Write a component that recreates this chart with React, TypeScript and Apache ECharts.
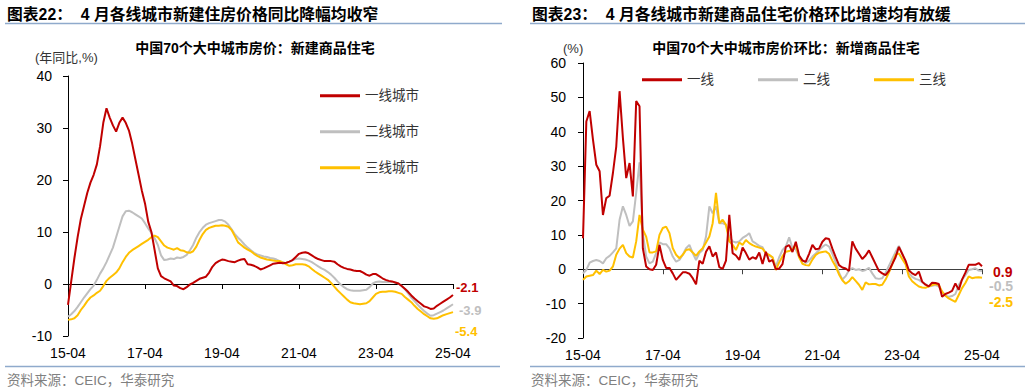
import React, { useEffect, useRef } from 'react';
import * as echarts from 'echarts';

// monthly categories 2015-04 .. 2025-04
const months: string[] = [];
for (let i = 0; i <= 120; i++) {
  const t = 3 + i;
  const yy = 15 + Math.floor(t / 12);
  const mm = (t % 12) + 1;
  months.push(`${yy}-${String(mm).padStart(2, '0')}`);
}

// Left chart: YoY (%)
const yoyTier1 = [
  -4, 0.5, 5, 9, 12.5, 15, 17.5, 19.5, 21, 23,
  26.5, 31, 33.8, 32, 30.5, 29.3, 31, 32, 31, 29.5,
  27, 24, 21, 18, 15.5, 12, 10, 6.5, 3.0, 1.5,
  1.1, 0.8, 0.5, -0.3, -0.4, -0.8, -1.0, -0.6, -0.1, 0.2,
  0.6, 1.0, 1.2, 1.4, 2.2, 3.3, 4.0, 4.4, 4.7, 4.6,
  4.4, 4.3, 4.2, 4.5, 4.7, 4.8, 3.8, 3.7, 3.5, 3.2,
  2.8, 3.0, 3.3, 3.6, 3.9, 4.0, 4.1, 4.0, 4.1, 4.3,
  4.6, 5.2, 5.8, 6.0, 6.1, 5.9, 5.5, 5.1, 4.8, 4.6,
  4.4, 4.4, 4.4, 4.3, 3.8, 3.4, 3.1, 2.9, 2.8, 2.6,
  2.5, 2.5, 2.2, 1.8, 1.6, 1.9, 1.9, 1.5, 1.1, 0.8,
  0.6, 0.5, 0.3, 0.1, -0.4, -0.9, -1.5, -2.2, -2.8, -3.3,
  -3.8, -4.3, -4.5, -4.8, -4.7, -4.2, -3.8, -3.4, -3.0, -2.6,
  -2.1,
];
const yoyTier2 = [
  -6.3, -5.8, -5.2, -4.4, -3.5, -2.6, -1.8, -1.0, -0.3, 0.8,
  2.0, 3.0, 4.2, 5.6, 7.0, 9.0, 11.0, 13.0, 14.0, 14.1,
  13.8, 13.4, 13.0, 12.6, 11.7, 10.7, 9.8, 8.8, 7.5, 5.5,
  4.6, 4.7, 4.9, 4.8, 5.1, 5.0, 5.2, 5.6, 6.5, 7.5,
  8.9, 10.0, 10.8, 11.4, 11.7, 11.9, 12.1, 12.3, 12.3, 12.0,
  11.4, 10.5, 9.6, 8.9, 8.3, 7.6, 7.0, 6.5, 6.0, 5.7,
  5.5, 5.3, 5.2, 5.0, 4.9, 4.7, 4.4, 4.2, 4.0, 4.3,
  4.6, 4.8, 4.9, 4.8, 4.7, 4.5, 4.2, 3.8, 3.4, 3.0,
  2.7, 2.3, 1.8, 1.2, 0.5, -0.1, -0.6, -1.0, -1.2, -1.3,
  -1.3, -1.3, -1.2, -1.1, -0.6, 0.1, 0.4, 0.5, 0.4, 0.4,
  0.4, 0.4, 0.3, 0.1, -0.4, -1.0, -1.8, -2.6, -3.3, -4.0,
  -4.6, -5.2, -5.7, -6.1, -6.0, -5.7, -5.4, -5.1, -4.7, -4.3,
  -3.9,
];
const yoyTier3 = [
  -6.9, -6.8, -6.6, -6.0, -5.0, -4.2, -3.3, -2.6, -2.2, -1.7,
  -1.3, -0.4, 0.6, 1.2, 1.7, 2.2, 3.0, 4.2, 5.2, 6.0,
  6.5, 6.9, 7.3, 7.7, 8.1, 8.5, 9.0, 9.3, 9.0, 8.2,
  7.4, 7.0, 6.8, 6.6, 6.9, 6.5, 6.4, 6.1, 6.0, 6.3,
  7.2, 8.5, 9.6, 10.4, 10.8, 11.0, 11.2, 11.2, 11.3, 11.2,
  11.0, 10.4, 9.2, 8.0, 7.5, 7.0, 6.6, 6.3, 5.8, 5.4,
  5.1, 4.9, 4.7, 4.6, 4.5, 4.4, 4.4, 4.1, 3.8, 3.5,
  3.6, 3.8, 3.8, 3.8, 3.7, 3.4, 2.9, 2.4, 2.0, 1.6,
  1.2, 0.8, 0.2, -0.5, -1.2, -1.8, -2.4, -3.0, -3.5, -3.7,
  -3.8, -3.9, -3.8, -3.7, -3.3, -2.6, -1.9, -1.6, -1.5, -1.5,
  -1.4, -1.4, -1.5, -1.7, -1.9, -2.5, -3.0, -3.5, -4.2, -4.8,
  -5.3, -5.8, -6.2, -6.6, -6.7, -6.6, -6.3, -6.0, -5.8, -5.6,
  -5.4,
];

// Right chart: MoM (%)
const momTier1 = [
  9, 43, 46, 37.7, 30.4, 28.5, 15.8, 20.7, 21.4, 28,
  35.7, 51.8, 38.2, 26.5, 30.9, 21.2, 48.9, 47.4, 6.1, 0.8,
  0, -0.2, 1.3, 7.1, 2.7, 0.4, 0.4, -1.2, -3.1, -2.0,
  -0.9, -0.9, -1.3, -2.6, -4.4, 2.5, 1.6, 5.1, 6.7, 3.7,
  4.9, 0.6, 0.1, 2.5, 15.8, 4.7, 4.0, 2.7, 6.3, 4.7,
  2.8, 3.5, 3.0, 4.9, 1.5, 5.1, 2.2, 2.7, 0, 0.2,
  1.5, 6.5, 7.0, 5.0, 8.0, 4.0, 2.5, 2.2, 4.5, 7.1,
  5.8, 6.0, 8.0, 9.0, 8.8, 6.0, 3.5, 1.2, 0.5, 0.2,
  -0.5, 8.1, 6.0, 4.5, 3.0, 4.0, 5.5, 3.5, 1.5, -0.5,
  -1.2, -1.7, -0.5, 1.5, 3.5, 6.5, 4.5, 2.5, -0.3, -1.2,
  -1.7, -0.7, -3.6, -4.5, -5.0, -3.9, -4.0, -4.3, -8.0, -7.2,
  -6.8, -6.3, -4.1, -6.0, -3.0, -1.0, 1.3, 1.3, 1.3, 1.8,
  0.9,
];
const momTier2 = [
  -1.2, -0.2, 1.9, 2.4, 2.7, 2.4, 1.7, 3.2, 3.9, 4.9,
  6.1, 14.4, 18.3, 15.8, 12.6, 13.9, 22.2, 31.1, 10.5, 3.7,
  1.7, 2.2, 4.7, 7.8, 7.3, 7.3, 6.1, 3.7, 2.2, 2.7,
  4.2, 6.1, 7.1, 4.7, 2.7, 4.7, 5.6, 9.5, 18.3, 16.3,
  18.3, 13.4, 13.4, 12.9, 9.5, 8.1, 7.8, 8.1, 9.1, 9.7,
  10.5, 8.1, 7.5, 6.8, 6.4, 4.5, 3.9, 3.5, 0.8, 3.5,
  5.6, 6.6, 9.3, 6.1, 5.8, 3.5, 2.7, 1.8, 2.5, 3.7,
  4.6, 5.6, 6.5, 7.2, 6.6, 4.5, 2.0, -1.0, -3.0, -2.0,
  -0.3, 0.3, -0.2, 0, -0.5, -0.2, 0.4, -1.2, -2.6, -2.8,
  -2.6, -1.0, 1.0, 3.0, 5.0, 6.8, 4.5, 2.0, -1.2, -2.2,
  -2.8, -3.1, -3.8, -4.3, -5.0, -4.8, -4.6, -5.0, -6.5, -7.7,
  -8.0, -7.8, -7.2, -4.6, -3.0, -1.7, -0.2, 0.0, 0.3, -0.4,
  -0.5,
];
const momTier3 = [
  -3.1, -2.1, -1.9, -1.7, -0.4, -1.4, -0.2, -0.7, -0.4, 0.8,
  4.2, 6.0, 7.1, 4.7, 3.7, 3.4, 8.1, 15.8, 11.5, 9.5,
  4.9, 4.9, 5.2, 10.0, 12.0, 12.4, 10.5, 6.1, 4.2, 3.2,
  4.2, 5.6, 5.8, 4.9, 3.9, 5.2, 6.1, 7.8, 9.5, 13.4,
  22.2, 13.4, 14.4, 12.9, 8.1, 7.1, 5.6, 7.8, 7.1, 8.5,
  7.6, 7.0, 6.6, 6.3, 6.0, 4.7, 4.2, 3.5, -0.2, 2.0,
  3.8, 5.1, 5.3, 5.8, 7.1, 3.5, 1.6, 1.2, 1.1, 2.8,
  4.2, 4.8, 5.0, 5.2, 4.5, 2.5, 0.8, -1.5, -3.2, -4.2,
  -3.5, -2.3, -3.4, -4.5, -6.0, -3.8, -4.4, -4.3, -4.3, -4.7,
  -4.5, -3.0, -1.0, 1.5, 4.2, 4.6, 3.0, 1.5, -2.1, -3.5,
  -4.3, -5.0, -5.3, -5.4, -5.0, -4.6, -4.3, -4.6, -6.5, -7.7,
  -8.5, -9.0, -9.5, -7.5, -5.5, -4.0, -2.1, -2.6, -2.4, -2.3,
  -2.5,
];

const leftNames = ['一线城市', '二线城市', '三线城市'];
const rightNames = ['一线', '二线', '三线'];
const leftYTicks = { min: -10, max: 40, interval: 10 };
const rightYTicks = { min: -20, max: 60, interval: 10 };

const RED = '#C00000';
const GRAY = '#BFBFBF';
const YELLOW = '#FFC000';
const RULE = '#8FAACC';
const NUM = '"Liberation Sans", Arial, "Noto Sans CJK SC", sans-serif';
const CJK = '"Liberation Sans", "Noto Sans CJK SC", sans-serif';
const LEGEND_ICON = 'path://M0,0L40,0L40,3L0,3Z';

function labelAxis(gridIndex: number) {
  return {
    gridIndex,
    type: 'category',
    data: months,
    boundaryGap: false,
    position: 'bottom',
    axisLine: { show: false, onZero: false },
    axisTick: { show: false },
    axisLabel: { interval: 23, fontSize: 14, color: '#000', margin: 10, fontFamily: NUM },
    splitLine: { show: false },
  };
}
function zeroAxis(gridIndex: number, color: string) {
  return {
    gridIndex,
    type: 'category',
    data: months,
    boundaryGap: false,
    position: 'bottom',
    axisLine: { show: true, onZero: true, lineStyle: { color, width: 1 } },
    axisTick: { show: true, interval: 23, length: 5, lineStyle: { color } },
    axisLabel: { show: false },
    splitLine: { show: false },
  };
}
function valAxis(gridIndex: number, t: any, margin: number) {
  return {
    gridIndex,
    type: 'value',
    min: t.min,
    max: t.max,
    interval: t.interval,
    axisLine: { show: true, lineStyle: { color: '#000', width: 1 } },
    axisTick: { show: true, length: 5, lineStyle: { color: '#000' } },
    axisLabel: { fontSize: 14, color: '#000', margin, fontFamily: NUM },
    splitLine: { show: false },
  };
}
function lineSeries(name: string, data: number[], color: string, xi: number, yi: number, off: number[], fs: number) {
  return {
    name,
    type: 'line',
    xAxisIndex: xi,
    yAxisIndex: yi,
    data,
    symbol: 'none',
    showSymbol: false,
    lineStyle: { color, width: 2 },
    itemStyle: { color },
    endLabel: {
      show: true,
      distance: 0,
      offset: off,
      color,
      fontWeight: 'bold',
      fontSize: fs,
      fontFamily: NUM,
      formatter: (p: any) => Number(p.value).toFixed(1),
    },
  };
}

export default function App() {
  const ref = useRef<HTMLDivElement>(null);
  useEffect(() => {
    if (!ref.current) return;
    const chart = echarts.init(ref.current, undefined, { renderer: 'svg' });
    const legendText = { fontSize: 13.5, color: '#333', fontFamily: CJK };
    const option: any = {
      animation: false,
      backgroundColor: '#fff',
      grid: [
        { left: 68, top: 76, width: 385, height: 260 },
        { left: 583, top: 63, width: 399, height: 275 },
      ],
      xAxis: [labelAxis(0), zeroAxis(0, '#000'), labelAxis(1), zeroAxis(1, '#404040')],
      yAxis: [valAxis(0, leftYTicks, 16), valAxis(1, rightYTicks, 17)],
      legend: [
        {
          orient: 'vertical',
          left: 315,
          top: 84,
          itemWidth: 40,
          itemHeight: 14,
          itemGap: 22.5,
          icon: LEGEND_ICON,
          data: leftNames,
          textStyle: legendText,
        },
        {
          orient: 'horizontal',
          left: 637,
          top: 68,
          itemWidth: 40,
          itemHeight: 14,
          itemGap: 44,
          icon: LEGEND_ICON,
          data: rightNames,
          textStyle: legendText,
        },
      ],
      series: [
        lineSeries(leftNames[1], yoyTier2, GRAY, 0, 0, [6, 6.5], 13),
        lineSeries(leftNames[2], yoyTier3, YELLOW, 0, 0, [2, 19.5], 13),
        lineSeries(leftNames[0], yoyTier1, RED, 0, 0, [3, -7], 13),
        lineSeries(rightNames[1], momTier2, GRAY, 2, 1, [7, 15.5], 14),
        lineSeries(rightNames[2], momTier3, YELLOW, 2, 1, [7, 24], 14),
        lineSeries(rightNames[0], momTier1, RED, 2, 1, [11, 6], 14),
      ],
      graphic: [
        { type: 'text', x: 7, y: 14, style: { text: '图表22：  4 月各线城市新建住房价格同比降幅均收窄', font: 'bold 15.8px ' + CJK, fill: '#000', textVerticalAlign: 'middle' } },
        { type: 'text', x: 532, y: 14, style: { text: '图表23：  4 月各线城市新建商品住宅价格环比增速均有放缓', font: 'bold 15.8px ' + CJK, fill: '#000', textVerticalAlign: 'middle' } },
        { type: 'line', shape: { x1: 5, y1: 23.5, x2: 502, y2: 23.5 }, style: { stroke: RULE, lineWidth: 1.5 } },
        { type: 'line', shape: { x1: 530, y1: 23.5, x2: 1025, y2: 23.5 }, style: { stroke: RULE, lineWidth: 1.5 } },
        { type: 'line', shape: { x1: 5, y1: 366.5, x2: 500, y2: 366.5 }, style: { stroke: RULE, lineWidth: 1.5 } },
        { type: 'line', shape: { x1: 530, y1: 366.5, x2: 1025, y2: 366.5 }, style: { stroke: RULE, lineWidth: 1.5 } },
        { type: 'text', x: 7, y: 380, style: { text: '资料来源：CEIC，华泰研究', font: '13.5px ' + CJK, fill: '#808080', textVerticalAlign: 'middle' } },
        { type: 'text', x: 531, y: 380, style: { text: '资料来源：CEIC，华泰研究', font: '13.5px ' + CJK, fill: '#808080', textVerticalAlign: 'middle' } },
        { type: 'text', x: 255, y: 48, style: { text: '中国70个大中城市房价：新建商品住宅', font: 'bold 14px ' + CJK, fill: '#000', textAlign: 'center', textVerticalAlign: 'middle' } },
        { type: 'text', x: 786, y: 48, style: { text: '中国70个大中城市房价环比：新增商品住宅', font: 'bold 14px ' + CJK, fill: '#000', textAlign: 'center', textVerticalAlign: 'middle' } },
        { type: 'text', x: 35, y: 57, style: { text: '(年同比,%)', font: '13px ' + CJK, fill: '#333', textVerticalAlign: 'middle' } },
        { type: 'text', x: 563, y: 48, style: { text: '(%)', font: '13px ' + CJK, fill: '#333', textVerticalAlign: 'middle' } },
      ],
    };
    chart.setOption(option);
    return () => chart.dispose();
  }, []);
  return (
    <div
      ref={ref}
      style={{ position: 'absolute', left: 0, top: 0, width: 1030, height: 392, background: '#fff' }}
    />
  );
}
